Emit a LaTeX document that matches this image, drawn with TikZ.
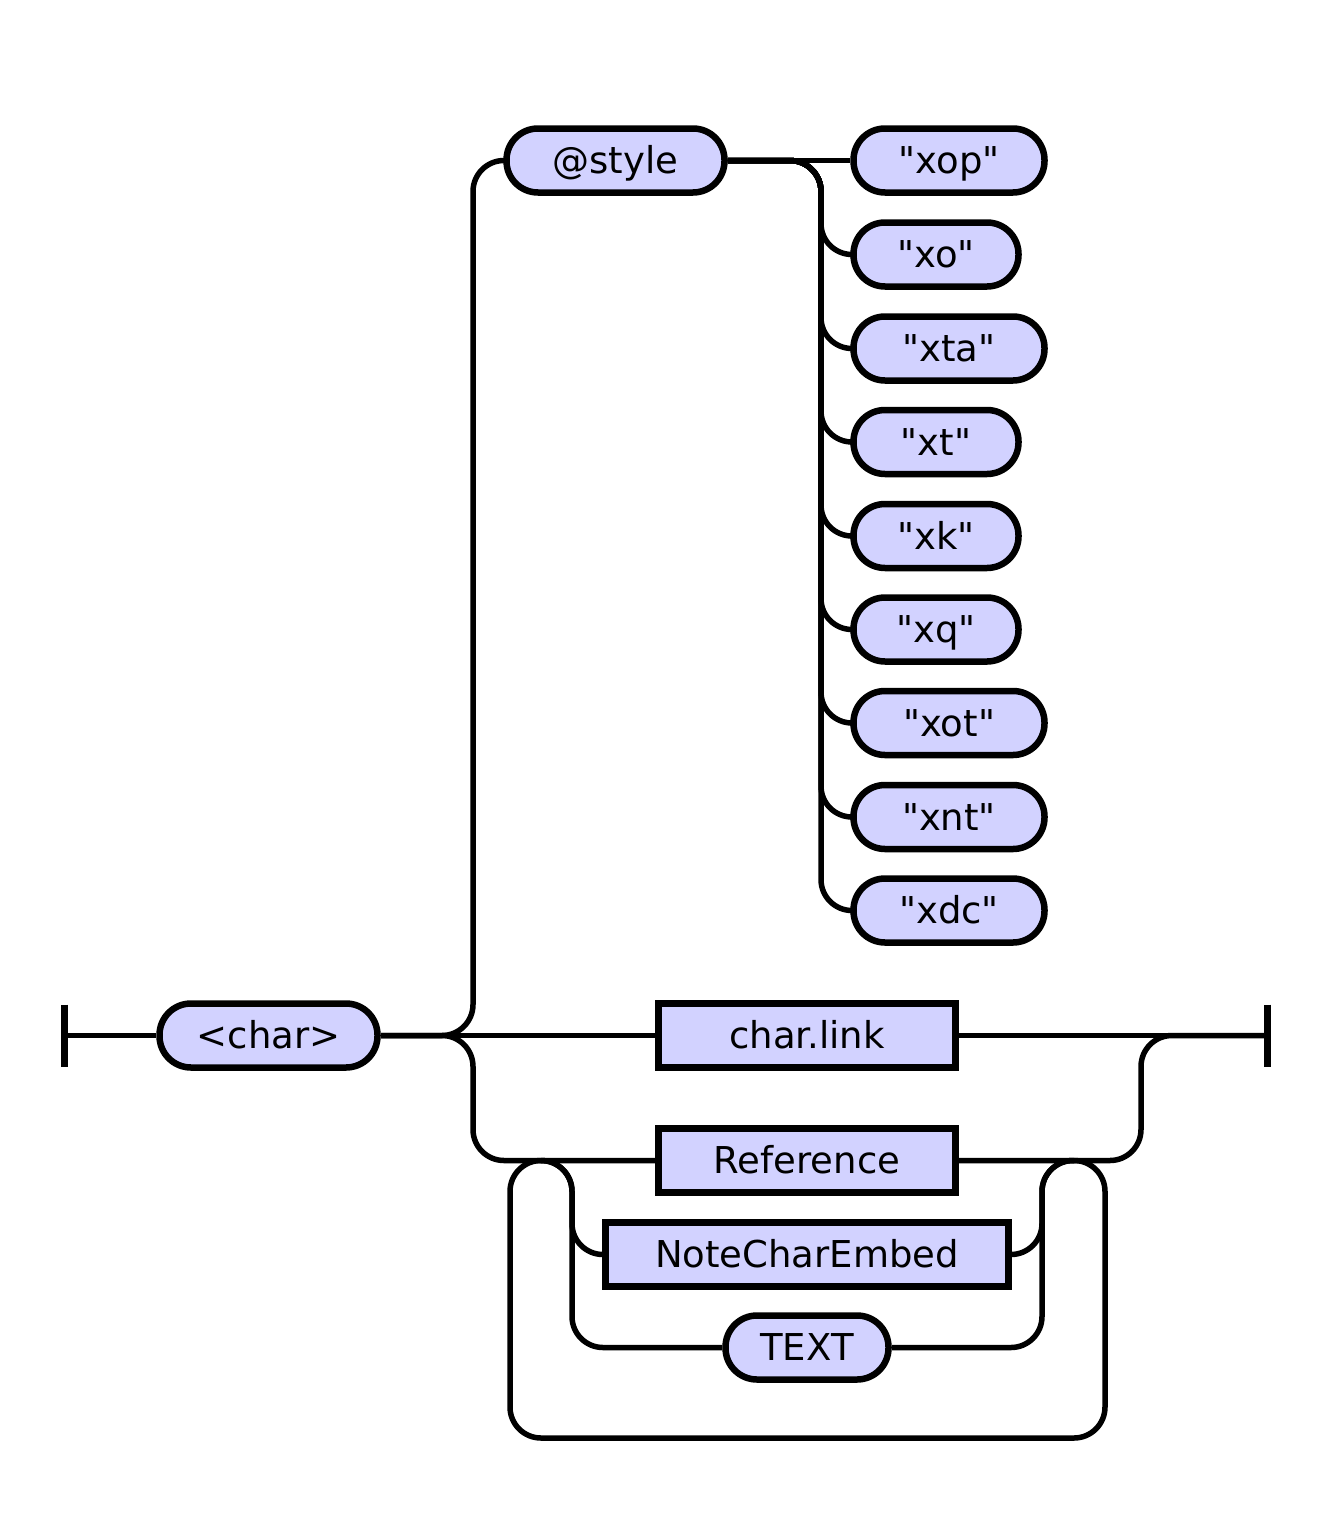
\documentclass[tikz,border=0pt]{standalone}
\usepackage{fontspec}
\setmainfont{DejaVu Sans}[Ligatures=TeXOff]
\definecolor{nodefill}{RGB}{210,210,255}
\begin{document}
\begin{tikzpicture}[x=1pt,y=-1pt,
  base/.style={draw, line width=6.5pt, fill=nodefill, minimum height=64pt, inner sep=0pt,
    text height=28pt, text depth=2pt, font=\fontsize{37}{41}\selectfont},
  term/.style={base, rounded corners=31.5pt},
  nonterm/.style={base},
  conn/.style={line width=5.5pt, rounded corners=31pt},
  bar/.style={line width=7pt}]
\useasboundingbox (0,0) rectangle (1327,1531);
% nodes
\node[term, minimum width=218pt] (char) at (268.5,1035.5) {<char>};
\node[term, minimum width=218pt] (style) at (615.5,160.5) {@style};
\node[term, minimum width=191pt] (xop) at (949,160.5) {"xop"};
\node[term, minimum width=165pt] (xo) at (936,254.5) {"xo"};
\node[term, minimum width=191pt] (xta) at (949,348.5) {"xta"};
\node[term, minimum width=165pt] (xt) at (936,442) {"xt"};
\node[term, minimum width=165pt] (xk) at (936,536) {"xk"};
\node[term, minimum width=165pt] (xq) at (936,629.5) {"xq"};
\node[term, minimum width=191pt] (xot) at (949,723) {"xot"};
\node[term, minimum width=191pt] (xnt) at (949,817) {"xnt"};
\node[term, minimum width=191pt] (xdc) at (949,910.5) {"xdc"};
\node[nonterm, minimum width=297pt] (link) at (807,1035.5) {char.link};
\node[nonterm, minimum width=297pt] (ref) at (807,1160.5) {Reference};
\node[nonterm, minimum width=403pt] (nce) at (807,1254.5) {NoteCharEmbed};
\node[term, minimum width=163pt] (text) at (807,1347.5) {TEXT};
% coordinates
\coordinate (start) at (64,1035.5);
\coordinate (end) at (1267,1035.5);
\coordinate (sv) at (821,160.5);
\coordinate (loopL) at (541,1160.5);
\coordinate (loopR) at (1074,1160.5);
% bars
\draw[bar] ([yshift=31pt]start) -- ([yshift=-31pt]start);
\draw[bar] ([yshift=31pt]end) -- ([yshift=-31pt]end);
% main line
\draw[conn] (start) -- (char.west);
\draw[conn] (char.east) -- (link.west);
\draw[conn] (link.east) -- (end);
% @style branch
\draw[conn] (char.east) -- (473,1035.5) |- (style.west);
\draw[conn] (style.east) -- (xop.west);
\foreach \n in {xo,xta,xt,xk,xq,xot,xnt,xdc}
  \draw[conn] (style.east) -- (sv) |- (\n.west);
% reference branch
\draw[conn] (char.east) -- (473,1035.5) |- (ref.west);
\draw[conn] (ref.east) -| (1141,1035.5) -- (end);
% loop
\draw[conn] (loopL) -| (510,1438) -| (1105,1160.5) -- (loopR);
\draw[conn] (loopL) -| (572,1254.5) -- (nce.west);
\draw[conn] (loopL) -| (572,1347.5) -- (text.west);
\draw[conn] (nce.east) -| (1042,1160.5) -- (loopR);
\draw[conn] (text.east) -| (1042,1160.5) -- (loopR);
\end{tikzpicture}
\end{document}
